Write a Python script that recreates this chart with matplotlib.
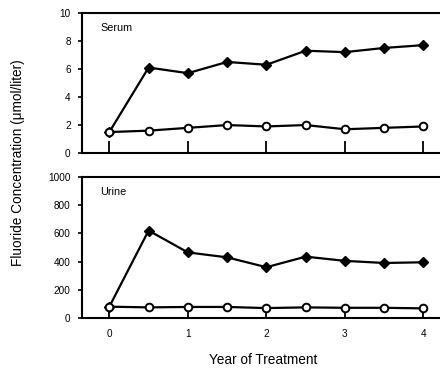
import matplotlib.pyplot as plt

plt.rcParams['font.family'] = ['Liberation Sans', 'DejaVu Sans']

years = [0, 0.5, 1, 1.5, 2, 2.5, 3, 3.5, 4]

serum_treated = [1.5, 6.1, 5.7, 6.5, 6.3, 7.3, 7.2, 7.5, 7.7]
serum_control = [1.5, 1.6, 1.8, 2.0, 1.9, 2.0, 1.7, 1.8, 1.9]

urine_treated = [80, 620, 465, 430, 360, 435, 405, 390, 395]
urine_control = [80, 75, 78, 78, 70, 75, 72, 72, 68]

fig = plt.figure(figsize=(4.4, 3.68), dpi=100)
ax1 = fig.add_axes([0.186, 0.584, 0.83, 0.381])
ax2 = fig.add_axes([0.186, 0.136, 0.83, 0.383])


def draw_panel(ax, treated, control, ymax, step, label):
    ax.plot(years, treated, color='black', lw=1.6, marker='D', ms=5.5,
            mfc='black', mec='black', zorder=3)
    ax.plot(years, control, color='black', lw=1.6, marker='o', ms=5.5,
            mfc='white', mec='black', mew=1.4, zorder=4)
    ax.set_xlim(-0.35, 4.3)
    ax.set_ylim(0, ymax)
    ax.set_yticks(range(0, ymax + 1, step))
    ax.set_xticks([0, 1, 2, 3, 4])
    ax.tick_params(axis='y', direction='out', length=3, width=1.2,
                   labelsize=7.2, pad=5)
    ax.tick_params(axis='x', direction='in', length=9, width=1.3,
                   labelsize=7.2, pad=8)
    for s in ax.spines.values():
        s.set_linewidth(1.5)
    ax.text(0.05, 0.87, label, transform=ax.transAxes, fontsize=7.8)


draw_panel(ax1, serum_treated, serum_control, 10, 2, 'Serum')
ax1.set_xticklabels([])
draw_panel(ax2, urine_treated, urine_control, 1000, 200, 'Urine')

fig.text(0.042, 0.557, 'Fluoride Concentration (\u03bcmol/liter)', rotation=90,
         ha='center', va='center', fontsize=9.8)
fig.text(0.598, 0.022, 'Year of Treatment', ha='center', va='center',
         fontsize=9.8)

fig.savefig('out.png', dpi=100)
